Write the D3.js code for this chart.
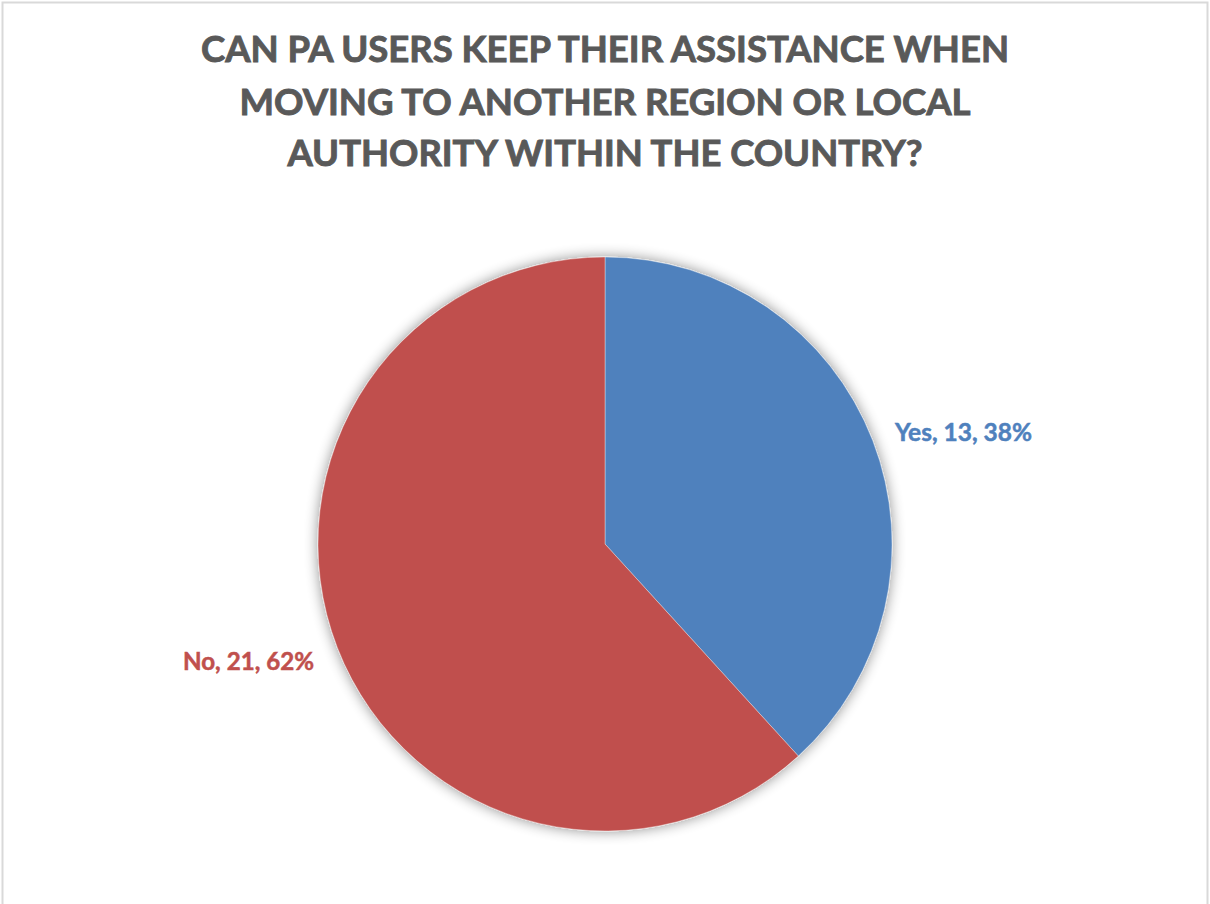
<!DOCTYPE html>
<html><head><meta charset="utf-8">
<script src="https://cdn.jsdelivr.net/npm/d3@7"></script>
<style>html,body{margin:0;padding:0;background:#fff;}svg{display:block;}</style>
</head><body>
<script>
const categories = ["Yes", "No"];
const values = [13, 21];
const percentLabels = ["38%", "62%"];
const colors = ["#4F81BD", "#C0504D"];
const titleLines = ["CAN PA USERS KEEP THEIR ASSISTANCE WHEN", "MOVING TO ANOTHER REGION OR LOCAL", "AUTHORITY WITHIN THE COUNTRY?"];

const W = 1210, H = 904;
const svg = d3.select("body").append("svg").attr("width", W).attr("height", H);

svg.append("rect").attr("x", 2.5).attr("y", 2.5).attr("width", 1205).attr("height", 920)
  .attr("fill", "#fff").attr("stroke", "#D9D9D9").attr("stroke-width", 2);

const defs = svg.append("defs");
const f = defs.append("filter").attr("id", "shadow").attr("x", "-20%").attr("y", "-20%").attr("width", "140%").attr("height", "140%");
f.append("feGaussianBlur").attr("in", "SourceAlpha").attr("stdDeviation", 7).attr("result", "b");
f.append("feComponentTransfer").attr("in", "b").attr("result", "c")
  .append("feFuncA").attr("type", "linear").attr("slope", 0.45);
const m = f.append("feMerge");
m.append("feMergeNode").attr("in", "c");
m.append("feMergeNode").attr("in", "SourceGraphic");

// title
const titleFont = "Lato, 'Open Sans', sans-serif";
const tg = svg.append("g").attr("fill", "#595959").attr("stroke", "#595959").attr("stroke-width", 0.9)
  .attr("font-family", titleFont).attr("font-weight", "bold");
const baselines = [62, 115, 166];
const lineWidths = [808, 731, 635];
tg.selectAll("text").data(titleLines).join("text")
  .attr("x", 605).attr("y", (d, i) => baselines[i])
  .attr("text-anchor", "middle").attr("font-size", 36)
  .attr("textLength", (d, i) => lineWidths[i]).attr("lengthAdjust", "spacingAndGlyphs")
  .text(d => d);

// pie
const cx = 605, cy = 544, r = 287;
const pie = d3.pie().sort(null).value(d => d)(values);
const arc = d3.arc().innerRadius(0).outerRadius(r);
const g = svg.append("g").attr("transform", `translate(${cx},${cy})`);
g.append("g").attr("filter", "url(#shadow)").selectAll("path").data(pie).join("path")
  .attr("d", arc).attr("fill", (d, i) => colors[i])
  .attr("stroke", "#fff").attr("stroke-width", 0.6).attr("stroke-opacity", 0.6);

// labels
const labelPos = [{x: 895, y: 441, anchor: "start", w: 137}, {x: 314, y: 670, anchor: "end", w: 131}];
const lg = svg.append("g").attr("font-family", titleFont).attr("font-weight", "bold");
lg.selectAll("text").data(pie).join("text")
  .attr("x", (d, i) => labelPos[i].x).attr("y", (d, i) => labelPos[i].y)
  .attr("text-anchor", (d, i) => labelPos[i].anchor)
  .attr("fill", (d, i) => colors[i])
  .attr("stroke", (d, i) => colors[i]).attr("stroke-width", 0.5)
  .attr("font-size", 24)
  .attr("textLength", (d, i) => labelPos[i].w).attr("lengthAdjust", "spacingAndGlyphs")
  .text((d, i) => `${categories[i]}, ${values[i]}, ${percentLabels[i]}`);
</script>
</body></html>
